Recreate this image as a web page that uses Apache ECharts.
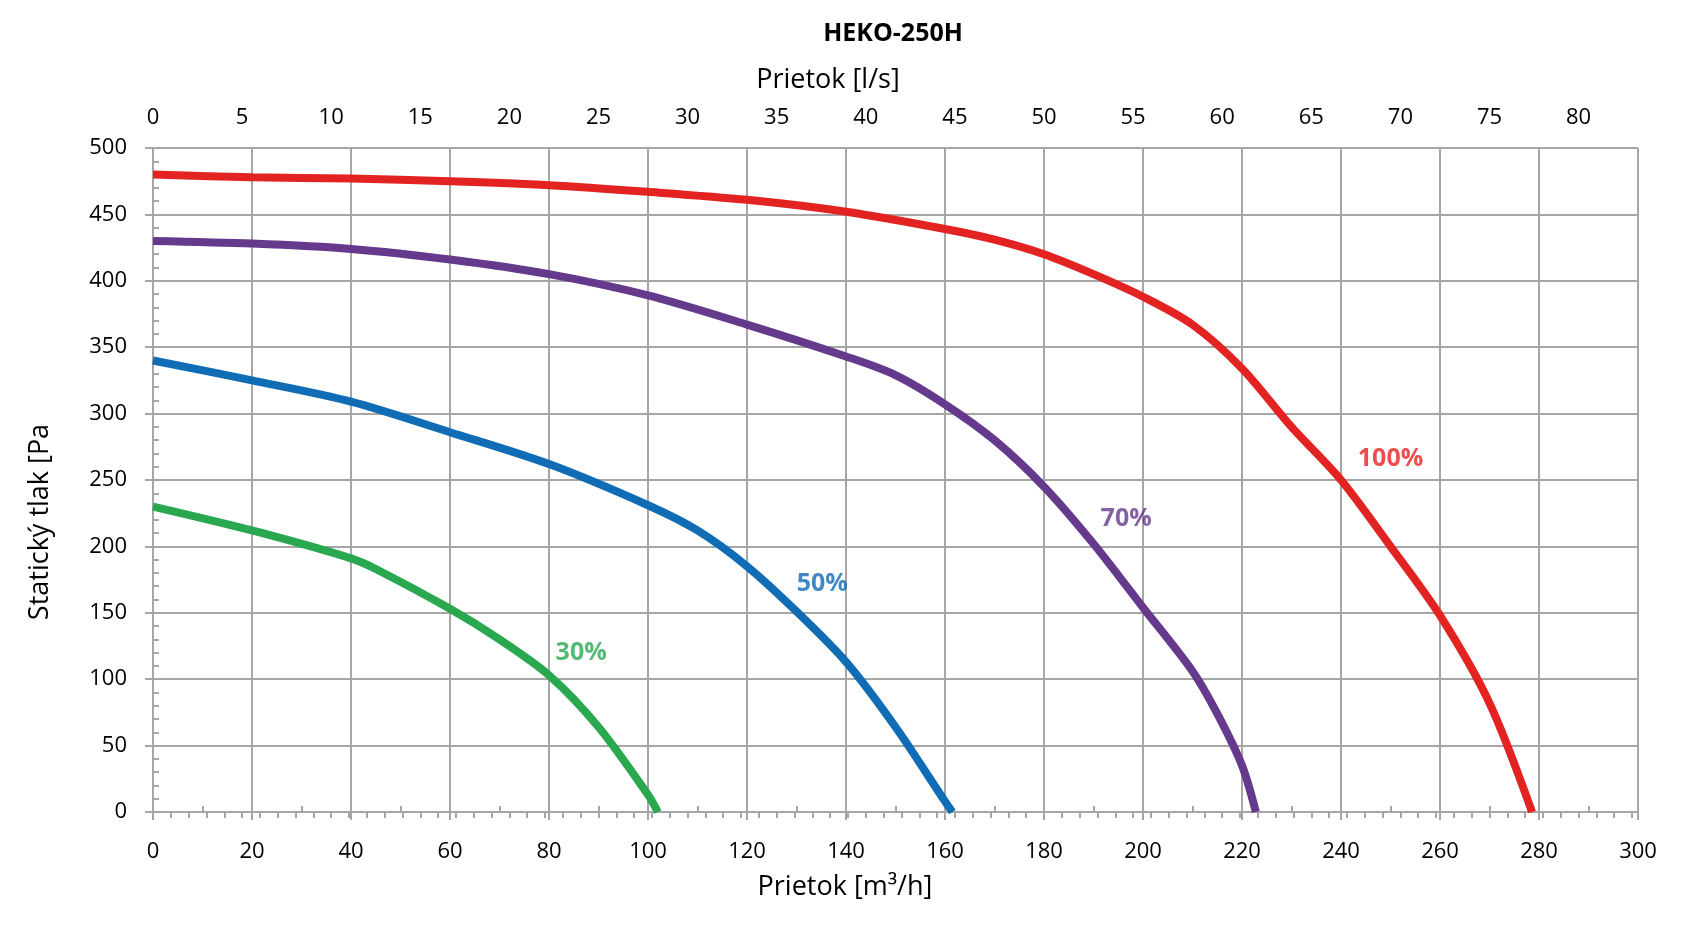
<!DOCTYPE html>
<html>
<head>
<meta charset="utf-8">
<script src="https://cdn.jsdelivr.net/npm/echarts@6/dist/echarts.min.js"></script>
<style>
  html, body { margin: 0; padding: 0; background: #fff; }
  #chart { width: 1692px; height: 925px; }
</style>
</head>
<body>
<div id="chart"></div>
<script>
// krivky ventilatora HEKO-250H, x = prietok [m3/h], y = staticky tlak [Pa]
const curve100 = [[0,480],[20,478],[40,477],[60,475],[80,472],[100,467],[120,461],[140,452],[160,439],[170,431],[180,420],[190,405],[200,388],[210,367],[220,334],[230,290],[240,250],[250,200],[260,148],[270,82],[278.6,0]]
const curve70 = [[0,430],[20,428],[40,424],[60,416],[80,405],[100,389],[120,367],[140,343],[150,329],[160,307],[170,280],[180,245],[190,202],[200,154],[210,106],[215,74],[220,35],[222.8,0]]
const curve50 = [[0,340],[20,325],[40,309],[60,286],[80,262],[100,231],[110,212],[120,185],[130,151],[140,113],[150,64],[160,8],[161.5,0]]
const curve30 = [[0,230],[20,212],[40,191],[45,183],[60,153],[70,130],[80,103],[90,64],[100,13],[102,0]]

const seriesNames = ['100%', '70%', '50%', '30%']
const seriesColors = ['#e32322', '#65398b', '#106cb5', '#29a84f']
// kde su popisky krivok (v suradniciach grafu)
const labelPos = [[250,266],[196.6,221],[135.2,171.5],[86.5,120]]

const gridColor = '#a6a6a6'
const font = '"Open Sans", "Noto Sans", sans-serif'

const chart = echarts.init(document.getElementById('chart'))

const lineSeries = [curve100, curve70, curve50, curve30].map((data, i) => {
  return {
    name: seriesNames[i],
    type: 'line',
    xAxisIndex: 0,
    yAxisIndex: 0,
    showSymbol: false,
    smooth: 0.3,
    data: data,
    lineStyle: { width: 8, color: seriesColors[i], cap: 'butt' },
    z: 5
  }
})

const labelSeries = labelPos.map((p, i) => {
  return {
    type: 'scatter',
    xAxisIndex: 0,
    yAxisIndex: 0,
    symbolSize: 0,
    data: [p],
    silent: true,
    label: {
      show: true,
      position: 'inside',
      formatter: seriesNames[i],
      color: seriesColors[i],
      fontFamily: font,
      fontWeight: 'bold',
      fontSize: 25
    },
    z: 6
  }
})

const option = {
  animation: false,
  backgroundColor: '#fff',
  grid: { left: 153, right: 54, top: 148, bottom: 113, containLabel: false },
  graphic: [
    { type: 'text', x: 893, y: 34, style: { text: 'HEKO-250H', font: 'bold 25px ' + font, fill: '#000', align: 'center', verticalAlign: 'middle' } },
    { type: 'text', x: 828, y: 80, style: { text: 'Prietok [l/s]', font: '27px ' + font, fill: '#000', align: 'center', verticalAlign: 'middle' } },
    { type: 'text', x: 845, y: 887, style: { text: 'Prietok [m³/h]', font: '27px ' + font, fill: '#000', align: 'center', verticalAlign: 'middle' } },
    { type: 'text', x: 40, y: 522, rotation: Math.PI / 2, style: { text: 'Statický tlak [Pa', font: '27px ' + font, fill: '#000', align: 'center', verticalAlign: 'middle' } }
  ],
  xAxis: [
    {
      type: 'value',
      position: 'bottom',
      min: 0,
      max: 300,
      interval: 20,
      axisLine: { lineStyle: { color: gridColor, width: 2 } },
      axisTick: { show: true, length: 8, lineStyle: { color: gridColor, width: 2 } },
      minorTick: { show: true, splitNumber: 2, length: -6, lineStyle: { color: gridColor, width: 2 } },
      splitLine: { show: true, lineStyle: { color: gridColor, width: 2 } },
      axisLabel: { color: '#000', fontSize: 22, fontFamily: font, margin: 29 }
    },
    {
      type: 'value',
      position: 'top',
      min: 0,
      max: 300 / 3.6,
      interval: 1,
      axisLine: { lineStyle: { color: gridColor, width: 2 } },
      axisTick: { show: true, inside: true, length: 6, lineStyle: { color: gridColor, width: 2 } },
      splitLine: { show: false },
      axisLabel: {
        color: '#000', fontSize: 22, fontFamily: font, margin: 19,
        showMaxLabel: false,
        formatter: (v) => (v % 5 === 0 ? String(v) : '')
      }
    }
  ],
  yAxis: [
    {
      type: 'value',
      position: 'left',
      min: 0,
      max: 500,
      interval: 50,
      axisLine: { show: true, lineStyle: { color: gridColor, width: 2 } },
      axisTick: { show: true, length: 8, lineStyle: { color: gridColor, width: 2 } },
      minorTick: { show: true, splitNumber: 5, length: -6, lineStyle: { color: gridColor, width: 2 } },
      splitLine: { show: true, lineStyle: { color: gridColor, width: 2 } },
      axisLabel: { color: '#000', fontSize: 22, fontFamily: font, margin: 26 }
    },
    {
      type: 'value',
      position: 'right',
      min: 0,
      max: 500,
      axisLine: { show: true, lineStyle: { color: gridColor, width: 2 } },
      axisTick: { show: false },
      axisLabel: { show: false },
      splitLine: { show: false }
    }
  ],
  series: [...lineSeries, ...labelSeries]
}

chart.setOption(option)
</script>
</body>
</html>
